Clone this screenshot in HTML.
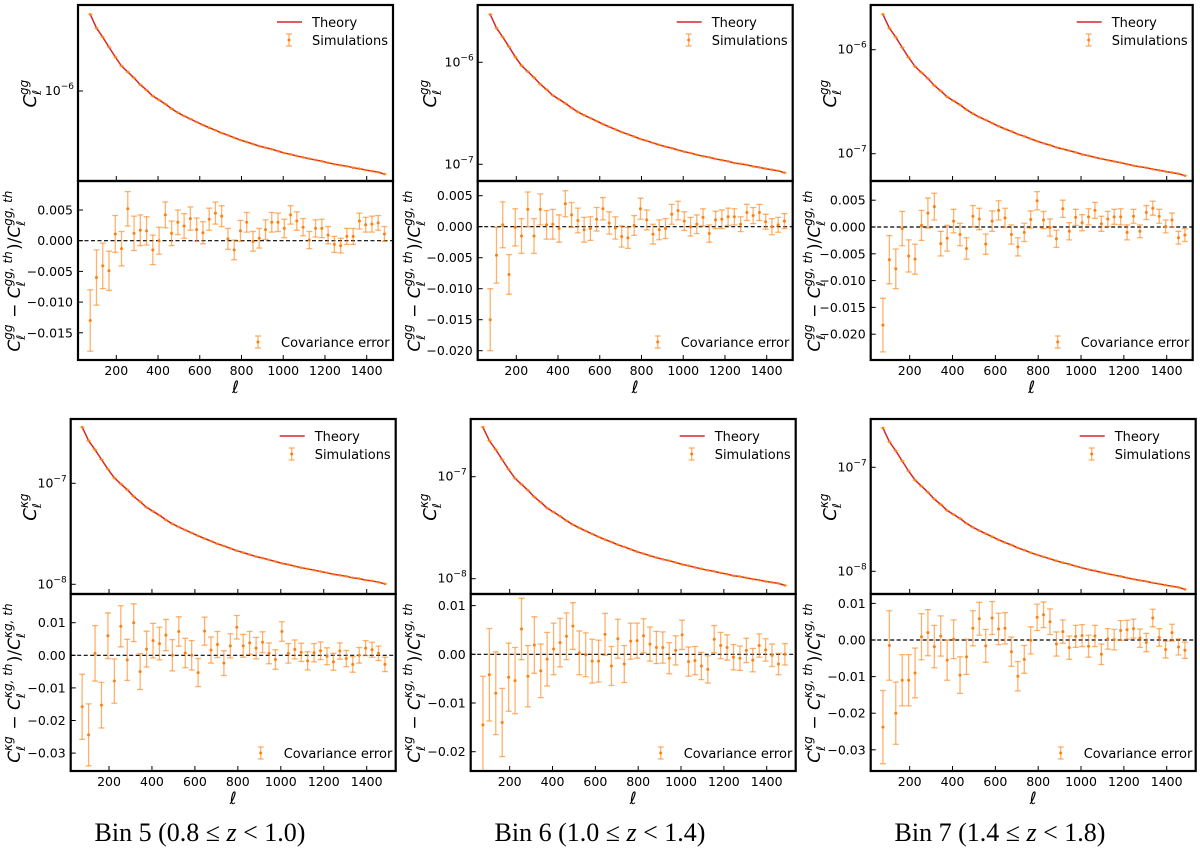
<!DOCTYPE html>
<html><head><meta charset="utf-8">
<style>
html,body{margin:0;padding:0;background:#fff;}
svg{display:block;font-family:"DejaVu Sans","Liberation Sans",sans-serif;}
</style></head>
<body>
<svg id="fig" width="1200" height="858" viewBox="0 0 1200 858" xmlns="http://www.w3.org/2000/svg"></svg>
<script>
const ell = [75,105,135,165,195,225,255,285,315,345,375,405,435,465,495,525,555,585,615,645,675,705,735,765,795,825,855,885,915,945,975,1005,1035,1065,1095,1125,1155,1185,1215,1245,1275,1305,1335,1365,1395,1425,1455,1485];
const xTicks = [200,400,600,800,1000,1200,1400];
const errGG = [5.0,4.5,3.7,3.2,3.0,2.8,2.8,2.8,2.5,2.3,2.4,2.2,2.1,2.0,2.0,2.0,1.9,1.9,1.8,1.8,1.8,1.7,1.7,1.6,1.7,1.6,1.6,1.6,1.6,1.6,1.5,1.5,1.5,1.5,1.4,1.4,1.4,1.5,1.4,1.3,1.2,1.3,1.3,1.3,1.2,1.3,1.2,1.2];
const errKG = [10,9.5,8.5,7,7,6.8,6.3,6.3,5.8,5.5,5.5,5.3,5,4.8,4.8,4.5,4.5,4.5,4.3,4.3,4.0,4.0,3.8,3.7,3.6,3.5,3.5,3.3,3.2,3.2,3.0,3.0,3.0,2.9,2.8,2.8,2.8,2.7,2.6,2.6,2.5,2.5,2.4,2.4,2.3,2.3,2.2,2.2];
const cl5gg = [5.56,4.09,3.34,2.67,2.14,1.75,1.53,1.34,1.15,1.02,.894,.818,.748,.673,.616,.572,.535,.500,.468,.440,.416,.391,.372,.352,.334,.320,.306,.292,.282,.272,.261,.250,.243,.234,.227,.220,.214,.208,.201,.195,.190,.186,.180,.176,.171,.167,.163,.156];
const cl6gg = [2.95,2.17,1.77,1.42,1.13,.928,.811,.710,.610,.541,.474,.434,.396,.357,.326,.303,.284,.265,.248,.233,.220,.207,.197,.187,.177,.170,.162,.155,.149,.144,.138,.133,.129,.124,.120,.117,.113,.110,.107,.103,.101,.0986,.0954,.0933,.0906,.0885,.0864,.0827];
const cl7gg = [2.19,1.61,1.32,1.05,.843,.690,.603,.528,.453,.402,.352,.322,.295,.265,.243,.225,.211,.197,.184,.173,.164,.154,.147,.139,.132,.126,.121,.115,.111,.107,.103,.0985,.0957,.0922,.0894,.0867,.0843,.0820,.0792,.0768,.0749,.0733,.0709,.0693,.0674,.0658,.0642,.0615];
const cl5kg = [3.59,2.64,2.15,1.72,1.38,1.13,.987,.864,.742,.658,.577,.528,.482,.434,.397,.369,.345,.323,.302,.284,.268,.252,.240,.227,.215,.206,.197,.188,.182,.175,.168,.161,.157,.151,.146,.142,.138,.134,.130,.126,.123,.120,.116,.114,.110,.108,.105,.101];
const cl6kg = [3.06,2.25,1.84,1.47,1.18,.963,.842,.737,.633,.561,.492,.450,.411,.370,.339,.315,.294,.275,.257,.242,.229,.215,.205,.194,.184,.176,.168,.161,.155,.150,.144,.138,.134,.129,.125,.121,.118,.114,.111,.107,.105,.102,.099,.097,.094,.092,.090,.086];
const cl7kg = [2.39,1.76,1.44,1.15,.920,.753,.658,.576,.495,.439,.384,.352,.322,.289,.265,.246,.230,.215,.201,.189,.179,.168,.160,.151,.144,.138,.132,.126,.121,.117,.112,.108,.104,.101,.0976,.0946,.0920,.0894,.0864,.0839,.0817,.0800,.0774,.0757,.0735,.0718,.0701,.0671];
const r5gg = [-13,-6,-4.1,-4.9,1.1,-1.3,5.2,1.2,1.7,1.6,-1.5,0,4.2,1.2,3,2.4,3.6,1.8,1.3,3.5,4.5,4,0.3,-1.5,1.6,3,-0.1,0.4,1.8,3,3,2,4.2,3.2,2.2,0.1,2,2,0.9,-0.6,-0.8,0.7,0.7,3.2,2.6,2.7,2.9,1.1];
const r6gg = [-15,-4.6,0.3,-7.7,-0.1,-1.5,2.8,-1.5,2.8,0.3,0.4,-0.3,3.7,1.9,1,-0.5,-0.3,1.2,2.9,0.6,-0.2,-1.6,-1.8,0.2,2.9,1.1,-1.2,-0.5,-0.3,2,2.6,0.9,0,0.4,1.5,-1.1,1.1,1.2,1.6,1.6,0.4,2.3,1.8,2.3,0.8,0,0.3,0.9];
const r7gg = [-18.3,-6.1,-7.8,-0.3,-5.4,-6,0.3,2.6,3.8,-3.1,-2.1,1.1,-1.4,-4,2,1.5,-3.2,1.1,3.1,1.7,-1.4,-3.7,-1,1.4,4.9,1.3,-0.1,-2.2,3.4,-0.8,1.8,0.8,1.9,3.1,0.6,1.5,1.9,1.9,-1,2,-0.8,2.7,3.5,2,0.1,1.3,-2,-1.5];
const r5kg = [-15.8,-24.4,0.6,-15.3,6,-7.9,8.9,-1.4,10,-5,1.9,4.5,3.6,6.2,0,7.3,0.7,0,-5.3,7.4,1.6,3.3,-2.4,2.9,8.6,2.9,3.8,2.2,4,0.6,-1.3,7.3,0.6,1.8,0.9,-1.7,0.8,1.4,-0.3,-2,1.3,-1,-2.8,0,2.2,1.7,0.6,-2.8];
const r6kg = [-14.5,-4.2,-8,-14,-4.7,-5.4,5.2,-4.5,1.9,-3.4,-1,1.1,2.4,3.7,5.8,0.3,-0.1,-1.4,-1.4,4.1,-2.4,3.2,-2,2.7,2.8,3.8,2.1,1.4,1.4,-0.8,0.8,4,-1.5,-1.3,-2.4,-3.1,3.1,1.8,1.4,-0.6,-0.8,0.8,-1.2,1.8,0.9,-0.2,-2,0];
const r7kg = [-23.8,-1.5,-20,-11,-11,-9,0.9,2,-1.8,1.1,-5.5,0.2,-9.6,-4.6,3.2,5.8,-1.6,6,3,3.2,-3.2,-9.9,-5.3,-0.1,6.2,6.9,5,-1.1,2.3,-2.1,1,1.2,-1.7,1.1,-3.9,0.3,0.1,2.6,2.8,3.1,0.5,-0.7,6,0.7,-2.6,2,-1.9,-2.8];

const NS = "http://www.w3.org/2000/svg";
const svg = document.getElementById('fig');
function mk(tag, attrs, parent){
  const e = document.createElementNS(NS, tag);
  for (const k in attrs) e.setAttribute(k, attrs[k]);
  (parent||svg).appendChild(e);
  return e;
}
const RED = "#d62728", ORANGE = "#ff7f0e";

const panels = [
 {id:'bin5-gg', cx:0, left:78, right:393, top:5, split:181, bot:360, l200:116.3, l1400:366.7, cl:cl5gg, unit:1e-6, ref:1e-6, refY:91, dec:103, logT:[[-6,1e-6]], r:r5gg, err:errGG, zeroY:240.7, ppu:6140, rT:[0.005,0,-0.005,-0.01,-0.015], fmt:3, kind:'gg'},
 {id:'bin6-gg', cx:400, left:477.7, right:792.7, top:5, split:181, bot:360, l200:516.3, l1400:766.7, cl:cl6gg, unit:1e-6, ref:1e-6, refY:62.3, dec:102, logT:[[-6,1e-6],[-7,1e-7]], r:r6gg, err:errGG, zeroY:226.7, ppu:6200, rT:[0.005,0,-0.005,-0.01,-0.015,-0.02], fmt:3, kind:'gg'},
 {id:'bin7-gg', cx:800, left:870.7, right:1192.7, top:5, split:181, bot:360, l200:909.7, l1400:1166.7, cl:cl7gg, unit:1e-6, ref:1e-6, refY:49.7, dec:104, logT:[[-6,1e-6],[-7,1e-7]], r:r7gg, err:errGG, zeroY:227, ppu:5360, rT:[0.005,0,-0.005,-0.01,-0.015,-0.02], fmt:3, kind:'gg'},
 {id:'bin5-kg', cx:0, left:70.7, right:395.7, top:419, split:594, bot:771, l200:109, l1400:366.7, cl:cl5kg, unit:1e-7, ref:1e-7, refY:483.3, dec:101, logT:[[-7,1e-7],[-8,1e-8]], r:r5kg, err:errKG, zeroY:655.3, ppu:3260, rT:[0.01,0,-0.01,-0.02,-0.03], fmt:2, kind:'kg'},
 {id:'bin6-kg', cx:400, left:470.7, right:795.7, top:419, split:594, bot:771, l200:509.7, l1400:766.7, cl:cl6kg, unit:1e-7, ref:1e-7, refY:476.7, dec:102, logT:[[-7,1e-7],[-8,1e-8]], r:r6kg, err:errKG, zeroY:654.3, ppu:4870, rT:[0.01,0,-0.01,-0.02], fmt:2, kind:'kg'},
 {id:'bin7-kg', cx:800, left:870.7, right:1195.7, top:419, split:594, bot:771, l200:909.7, l1400:1166.7, cl:cl7kg, unit:1e-7, ref:1e-7, refY:467.3, dec:104, logT:[[-7,1e-7],[-8,1e-8]], r:r7kg, err:errKG, zeroY:640, ppu:3660, rT:[0.01,0,-0.01,-0.02,-0.03], fmt:2, kind:'kg'}
];

function fmtTick(v, d){
  const s = Math.abs(v).toFixed(d);
  return (v < 0 ? "\u2212" : "") + s;
}
// append C_ell^{sup} to a text element: C, subscript ell, superscript shifted back over it
function addC(textEl, sup, small){
  let s = mk('tspan', {'font-style':'italic'}, textEl); s.textContent = 'C';
  s = mk('tspan', {'font-style':'italic', 'font-size':small, dy:5}, textEl); s.textContent = '\u2113';
  s = mk('tspan', {'font-style':'italic', 'font-size':small, dx:-5, dy:-13}, textEl); s.textContent = sup;
  s = mk('tspan', {dy:8, 'font-size':small}, textEl); s.textContent = '\u200A';
}

panels.forEach(p => {
  const g = mk('g', {});
  
  
  const xs = l => p.l200 + (l - 200) * (p.l1400 - p.l200) / 1200;
  const ysTop = v => p.refY - p.dec * Math.log10(v / p.ref);
  const ysR = v => p.zeroY - v * p.ppu;
  const clip = 'clip-' + p.id;
  const defs = mk('defs', {}, g);
  const cp = mk('clipPath', {id: clip}, defs);
  mk('rect', {x:p.left, y:p.split, width:p.right-p.left, height:p.bot-p.split}, cp);

  let d = '';
  ell.forEach((l,i) => { d += (i?'L':'M') + xs(l).toFixed(1) + ',' + ysTop(p.cl[i]*p.unit).toFixed(1); });
  const th = mk('path', {d:d, fill:'none', stroke:RED, 'stroke-width':1.5}, g);
  
  
  ell.forEach((l,i) => {
    const x = xs(l), y = ysTop(p.cl[i]*p.unit);
    const c = mk('g', {}, g);
    
    
    mk('line', {x1:x-2.5, x2:x+2.5, y1:y, y2:y, stroke:ORANGE, 'stroke-opacity':0.6, 'stroke-width':1}, c);
    mk('circle', {cx:x, cy:y, r:1.3, fill:ORANGE}, c);
  });

  const zl = mk('line', {x1:p.left, x2:p.right, y1:p.zeroY, y2:p.zeroY, stroke:'#000', 'stroke-width':1.2, 'stroke-dasharray':'4,2.5'}, g);
  
  
  const rg = mk('g', {'clip-path':'url(#'+clip+')'}, g);
  ell.forEach((l,i) => {
    const x = xs(l), v = p.r[i]*1e-3, e = p.err[i]*1e-3;
    const y = ysR(v), y1 = ysR(v+e), y2 = ysR(v-e);
    const eb = mk('g', {}, rg);
    
    
    const st = {stroke:ORANGE, 'stroke-opacity':0.6, 'stroke-width':1.3};
    mk('line', Object.assign({x1:x, x2:x, y1:y1, y2:y2}, st), eb);
    mk('line', Object.assign({x1:x-3, x2:x+3, y1:y1, y2:y1}, st), eb);
    mk('line', Object.assign({x1:x-3, x2:x+3, y1:y2, y2:y2}, st), eb);
    mk('circle', {cx:x, cy:y, r:1.5, fill:ORANGE}, eb);
  });

  const f1 = mk('rect', {x:p.left, y:p.top, width:p.right-p.left, height:p.split-p.top, fill:'none', stroke:'#000', 'stroke-width':2.2}, g);
  
  
  const f2 = mk('rect', {x:p.left, y:p.split, width:p.right-p.left, height:p.bot-p.split, fill:'none', stroke:'#000', 'stroke-width':2.2}, g);
  
  

  xTicks.forEach(t => {
    const x = xs(t);
    mk('line', {x1:x, x2:x, y1:p.split, y2:p.split-5, stroke:'#000', 'stroke-width':1}, g);
    mk('line', {x1:x, x2:x, y1:p.bot, y2:p.bot-5, stroke:'#000', 'stroke-width':1}, g);
    const tl = mk('text', {x:x, y:p.bot+15, 'text-anchor':'middle', 'font-size':12.5}, g);
    tl.textContent = t;
    
    
  });
  const xl = mk('text', {x:(p.left+p.right)/2, y:p.bot+33, 'text-anchor':'middle', 'font-size':17, 'font-style':'italic'}, g);
  xl.textContent = '\u2113';
  
  

  p.logT.forEach(([ex, v]) => {
    const y = ysTop(v);
    mk('line', {x1:p.left, x2:p.left+5, y1:y, y2:y, stroke:'#000', 'stroke-width':1}, g);
    const tl = mk('text', {x:p.left-4, y:y+4, 'text-anchor':'end', 'font-size':12.5}, g);
    
    
    const a = mk('tspan', {}, tl); a.textContent = '10';
    const b = mk('tspan', {dy:-6, 'font-size':9}, tl); b.textContent = '\u2212' + (-ex);
  });
  p.rT.forEach(v => {
    const y = ysR(v);
    mk('line', {x1:p.left, x2:p.left+5, y1:y, y2:y, stroke:'#000', 'stroke-width':1}, g);
    const tl = mk('text', {x:p.left-5, y:y+4.5, 'text-anchor':'end', 'font-size':12.5}, g);
    tl.textContent = fmtTick(v, p.fmt);
    
    
  });

  const sup = p.kind === 'gg' ? 'gg' : '\u03BAg';
  const ty = (p.top+p.split)/2, tx = p.cx + 36;
  const yl = mk('text', {transform:'translate('+tx+','+ty+') rotate(-90)', 'text-anchor':'middle', 'font-size':18}, g);
  
  
  addC(yl, sup, 12);

  const ry = (p.split+p.bot)/2, rx = p.cx + 20;
  const rl = mk('text', {transform:'translate('+rx+','+ry+') rotate(-90)', 'text-anchor':'middle', 'font-size':17}, g);
  
  
  addC(rl, sup, 12);
  let s = mk('tspan', {}, rl); s.textContent = ' \u2212 ';
  addC(rl, sup + ', th', 12);
  s = mk('tspan', {}, rl); s.textContent = ')/';
  addC(rl, sup + ', th', 12);

  const lg = mk('g', {}, g);
  
  
  const R = p.right;
  const y1 = p.top + 17, y2 = p.top + 35;
  mk('line', {x1:R-116, x2:R-91, y1:y1, y2:y1, stroke:RED, 'stroke-width':1.5}, lg);
  let t1 = mk('text', {x:R-81, y:y1+5, 'font-size':13}, lg); t1.textContent = 'Theory';
  const mx = R-104;
  mk('line', {x1:mx, x2:mx, y1:y2-6, y2:y2+6, stroke:ORANGE, 'stroke-opacity':0.6, 'stroke-width':1.3}, lg);
  mk('line', {x1:mx-3, x2:mx+3, y1:y2-6, y2:y2-6, stroke:ORANGE, 'stroke-opacity':0.6, 'stroke-width':1.3}, lg);
  mk('line', {x1:mx-3, x2:mx+3, y1:y2+6, y2:y2+6, stroke:ORANGE, 'stroke-opacity':0.6, 'stroke-width':1.3}, lg);
  mk('circle', {cx:mx, cy:y2, r:1.5, fill:ORANGE}, lg);
  let t2 = mk('text', {x:R-81, y:y2+5, 'font-size':13}, lg); t2.textContent = 'Simulations';

  const lg2 = mk('g', {}, g);
  
  
  const y3 = p.bot - 18, m2 = R-135;
  mk('line', {x1:m2, x2:m2, y1:y3-6, y2:y3+6, stroke:ORANGE, 'stroke-opacity':0.6, 'stroke-width':1.3}, lg2);
  mk('line', {x1:m2-3, x2:m2+3, y1:y3-6, y2:y3-6, stroke:ORANGE, 'stroke-opacity':0.6, 'stroke-width':1.3}, lg2);
  mk('line', {x1:m2-3, x2:m2+3, y1:y3+6, y2:y3+6, stroke:ORANGE, 'stroke-opacity':0.6, 'stroke-width':1.3}, lg2);
  mk('circle', {cx:m2, cy:y3, r:1.5, fill:ORANGE}, lg2);
  let t3 = mk('text', {x:R-112, y:y3+5, 'font-size':13}, lg2); t3.textContent = 'Covariance error';
});

[['Bin 5 (0.8 \u2264 ', '1.0)', 200],['Bin 6 (1.0 \u2264 ', '1.4)', 600],['Bin 7 (1.4 \u2264 ', '1.8)', 1000]].forEach(([a,b,x]) => {
  const t = mk('text', {x:x, y:841, 'text-anchor':'middle', 'font-size':26, 'font-family':'"Liberation Serif", serif'});
  
  
  let s = mk('tspan', {}, t); s.textContent = a;
  s = mk('tspan', {'font-style':'italic'}, t); s.textContent = 'z';
  s = mk('tspan', {}, t); s.textContent = ' < ' + b;
});
</script>
</body></html>
